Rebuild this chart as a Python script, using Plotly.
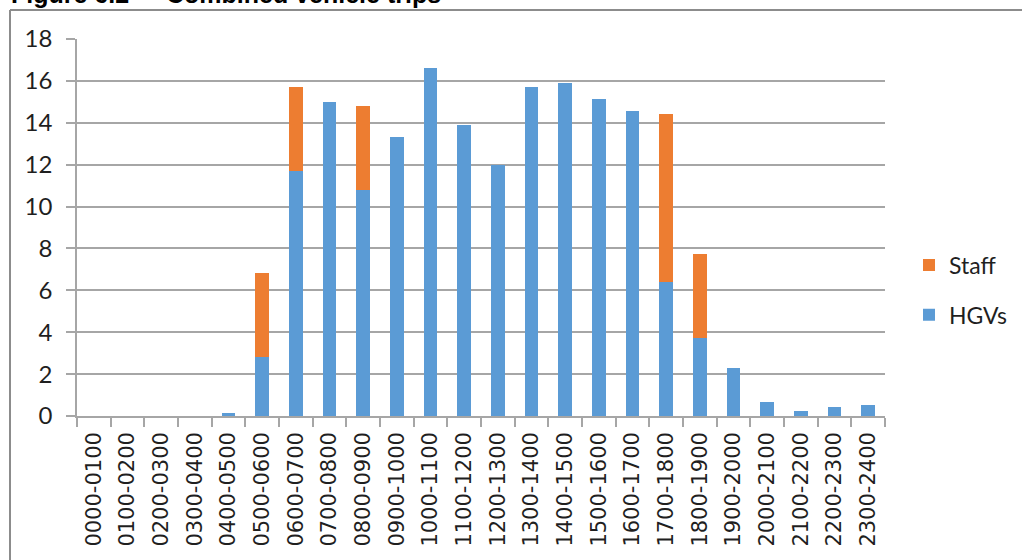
import plotly.graph_objects as go

# Hourly periods across the day
periods = [
    "0000-0100", "0100-0200", "0200-0300", "0300-0400", "0400-0500", "0500-0600",
    "0600-0700", "0700-0800", "0800-0900", "0900-1000", "1000-1100", "1100-1200",
    "1200-1300", "1300-1400", "1400-1500", "1500-1600", "1600-1700", "1700-1800",
    "1800-1900", "1900-2000", "2000-2100", "2100-2200", "2200-2300", "2300-2400",
]

# Vehicle trips per hour
hgv_trips = [
    0, 0, 0, 0, 0.15, 2.83,
    11.7, 14.97, 10.8, 13.3, 16.6, 13.9,
    12.0, 15.7, 15.88, 15.15, 14.54, 6.4,
    3.72, 2.3, 0.65, 0.22, 0.42, 0.53,
]
staff_trips = [
    0, 0, 0, 0, 0, 4.0,
    4.0, 0, 4.0, 0, 0, 0,
    0, 0, 0, 0, 0, 8.0,
    4.0, 0, 0, 0, 0, 0,
]

y_ticks = [0, 2, 4, 6, 8, 10, 12, 14, 16, 18]

BLUE = "#5B9BD5"
ORANGE = "#ED7D31"
GRID = "#a6a6a6"
TEXT = "#1f1f1f"

# Plot-area geometry in pixels
W, H = 1022, 560
L, R, T, B = 77, 885, 39, 416


def px_x(p):
    return (p - L) / (R - L)


def px_y(p):
    return (B - p) / (B - T)


fig = go.Figure()
fig.add_trace(go.Bar(
    x=periods, y=hgv_trips, name="HGVs", marker_color=BLUE,
    marker_line_width=0, legendgroup="hgv", legendrank=2,
))
fig.add_trace(go.Bar(
    x=periods, y=staff_trips, name="Staff", marker_color=ORANGE,
    marker_line_width=0, legendgroup="staff", legendrank=1,
))

fig.update_layout(
    width=W, height=H,
    margin=dict(l=L, r=W - R, t=T, b=H - B, pad=0, autoexpand=False),
    barmode="stack",
    bargap=0.59,
    plot_bgcolor="white",
    paper_bgcolor="white",
    showlegend=True,
    legend=dict(
        x=px_x(909), y=px_y(290), xanchor="left", yanchor="middle",
        traceorder="grouped", tracegroupgap=17,
        font=dict(family="Lato", size=23, color=TEXT),
        bgcolor="rgba(0,0,0,0)",
    ),
    xaxis=dict(
        type="category",
        showgrid=False,
        showline=True, linecolor=GRID, linewidth=1.5,
        ticks="outside", tickson="boundaries", ticklen=9,
        tickcolor=GRID, tickwidth=1.5,
        tickangle=-90,
        tickfont=dict(family="DejaVu Sans", size=21, color=TEXT),
        ticklabelstandoff=6,
    ),
    yaxis=dict(
        range=[0, 18],
        tickvals=y_ticks,
        showgrid=True, gridcolor=GRID, gridwidth=1.5,
        showline=True, linecolor=GRID, linewidth=1.5,
        ticks="outside", ticklen=9, tickcolor=GRID, tickwidth=1.5,
        tickfont=dict(family="Lato", size=24, color=TEXT),
        ticklabelstandoff=9,
        zeroline=False,
    ),
)

# Outer chart frame
fig.add_shape(type="line", xref="paper", yref="paper",
              x0=px_x(10), x1=px_x(1030), y0=px_y(10), y1=px_y(10),
              line=dict(color="#8c8c8c", width=2))
fig.add_shape(type="line", xref="paper", yref="paper",
              x0=px_x(10), x1=px_x(10), y0=px_y(10), y1=px_y(570),
              line=dict(color="#8c8c8c", width=2))

# Figure caption above the frame
title_font = dict(family="Liberation Sans", size=25, color="#000000")
fig.add_annotation(text="<b>Figure 6.2</b>", xref="paper", yref="paper",
                   x=px_x(9), y=px_y(10), xanchor="left", yanchor="bottom",
                   showarrow=False, font=title_font)
fig.add_annotation(text="<b>Combined vehicle trips</b>", xref="paper", yref="paper",
                   x=px_x(164), y=px_y(10), xanchor="left", yanchor="bottom",
                   showarrow=False, font=title_font)

fig.write_html("out.html")
